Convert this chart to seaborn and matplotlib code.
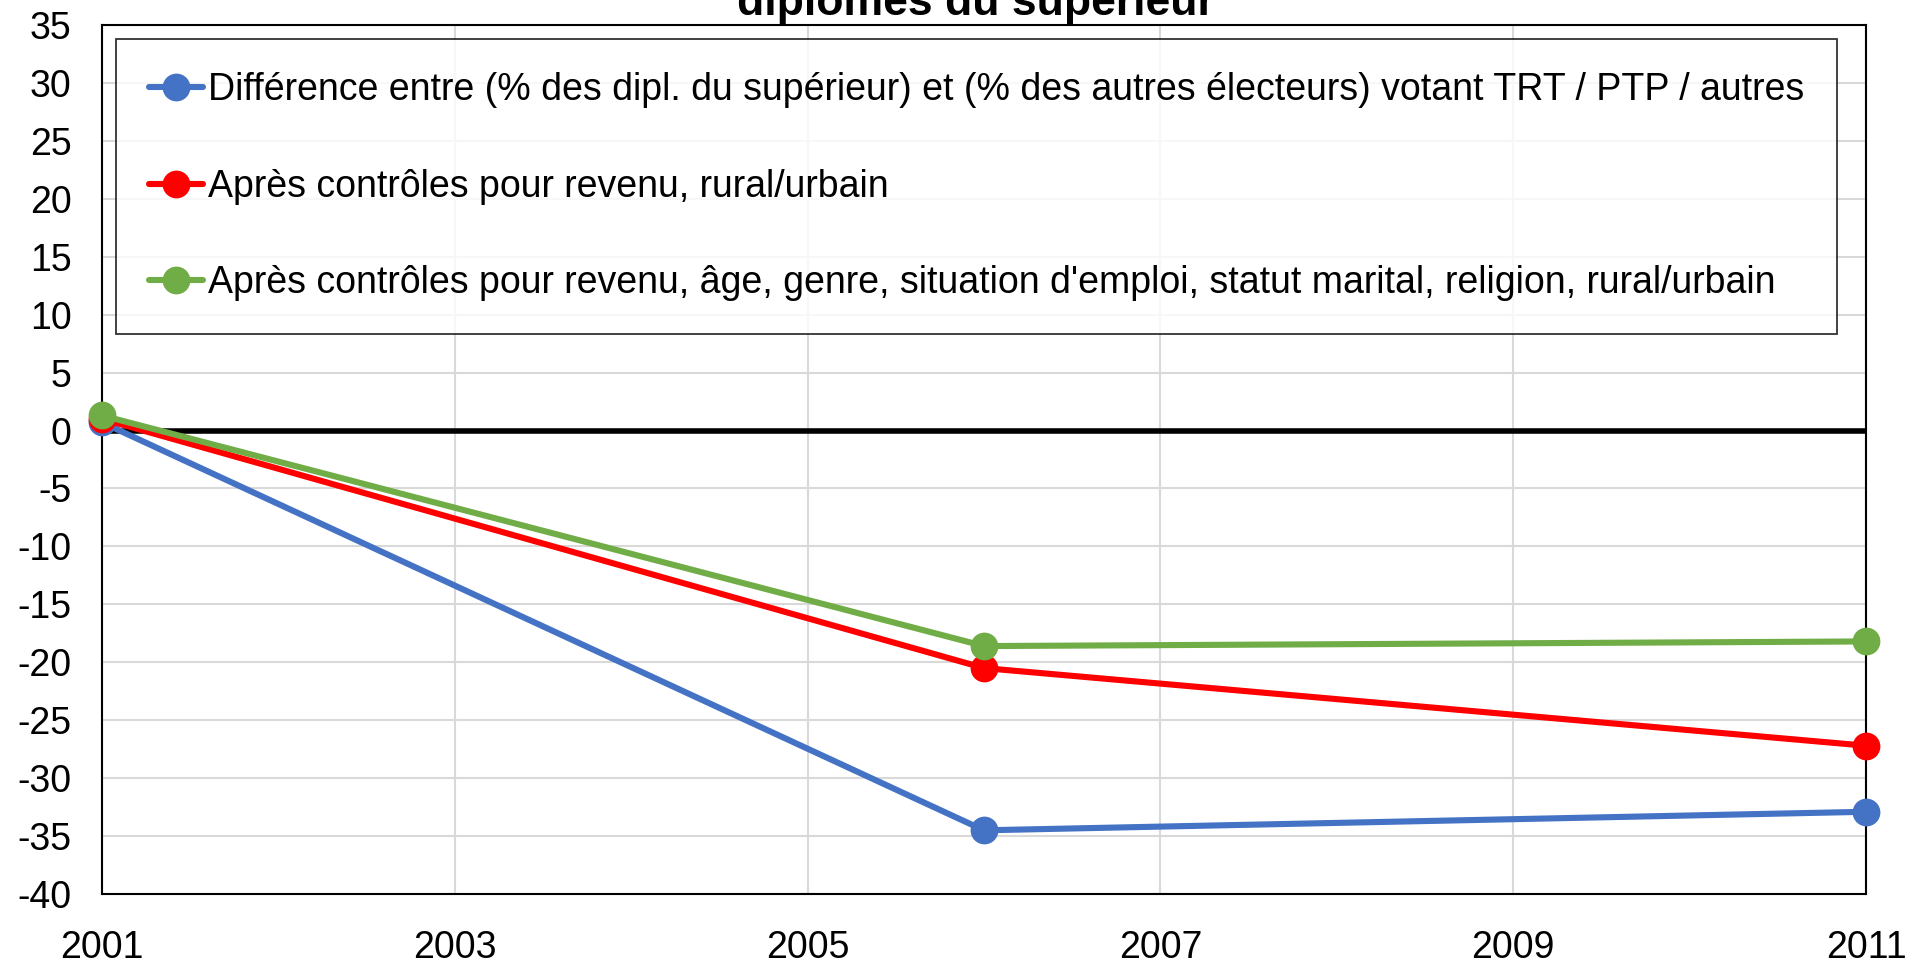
import pandas as pd
import matplotlib.pyplot as plt
import seaborn as sns

# Données
annees = [2001, 2006, 2011]
serie_brute = [0.7, -34.5, -32.9]
serie_revenu = [1.0, -20.5, -27.2]
serie_complet = [1.3, -18.6, -18.2]

libelles = [
    "Différence entre (% des dipl. du supérieur) et (% des autres électeurs) votant TRT / PTP / autres",
    "Après contrôles pour revenu, rural/urbain",
    "Après contrôles pour revenu, âge, genre, situation d'emploi, statut marital, religion, rural/urbain",
]
couleurs = ["#4472C4", "#FF0000", "#70AD47"]

df = pd.DataFrame({
    "annee": annees * 3,
    "valeur": serie_brute + serie_revenu + serie_complet,
    "serie": [libelles[0]] * 3 + [libelles[1]] * 3 + [libelles[2]] * 3,
})

sns.set_style("white")
plt.rcParams['font.family'] = ['Liberation Sans', 'DejaVu Sans']
plt.rcParams['axes.unicode_minus'] = False
plt.rcParams['text.color'] = 'black'
plt.rcParams['xtick.color'] = 'black'
plt.rcParams['ytick.color'] = 'black'

fig = plt.figure(figsize=(19.21, 9.68), dpi=100)
ax = fig.add_axes([0.0531, 0.0764, 0.9183, 0.8978])

ax.axhline(0, color="black", linewidth=4, zorder=2)

sns.lineplot(data=df, x="annee", y="valeur", hue="serie", hue_order=libelles,
             palette=couleurs, marker="o", markersize=20, markeredgewidth=0,
             linewidth=4.4, ax=ax, zorder=3, clip_on=False)

ax.set_xlim(2001, 2011)
ax.set_ylim(-40, 35)
ax.set_xticks(range(2001, 2012, 2))
ax.set_yticks(range(-40, 36, 5))
ax.grid(True, color="#D9D9D9", linewidth=1.5)
ax.set_axisbelow(True)
ax.set_xlabel("")
ax.set_ylabel("")
ax.tick_params(axis="x", labelsize=27, pad=26, length=0)
ax.tick_params(axis="y", labelsize=27, pad=22, length=0)
for s in ax.spines.values():
    s.set_color("black")
    s.set_linewidth(1.5)
    s.set_visible(True)

leg = ax.legend(loc="upper left", bbox_to_anchor=(0.008, 0.984), borderaxespad=0,
                fontsize=27, frameon=True, fancybox=False, edgecolor="black",
                handlelength=1.45, handletextpad=0.12, labelspacing=1.62,
                borderpad=0.88)
leg.get_frame().set_linewidth(1.3)
for t in leg.get_texts():
    t.set_color("black")

fig.text(0.508, 0.997, "diplômés du supérieur", ha="center", va="center",
         fontsize=32, fontweight="bold", color="black")

fig.savefig("out.png", dpi=100)
